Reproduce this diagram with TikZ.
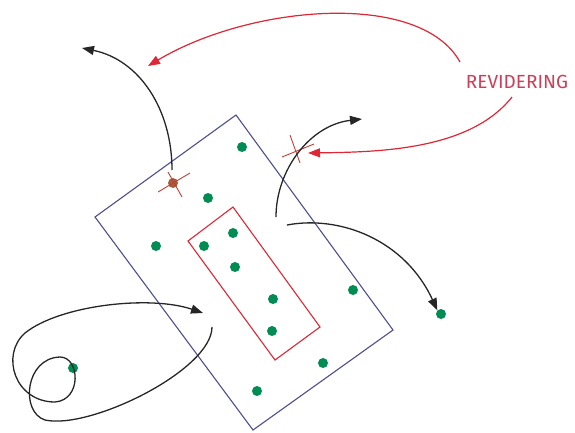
\documentclass[tikz,border=0pt]{standalone}
\usepackage{fontspec}
\newfontfamily\labelfont{Fira Sans}
\usetikzlibrary{arrows.meta}
\definecolor{rvRed}{RGB}{222,38,52}
\definecolor{rvText}{RGB}{205,62,88}
\definecolor{rvBlue}{RGB}{78,78,145}
\definecolor{rvGreen}{RGB}{0,140,82}
\definecolor{rvBrown}{RGB}{160,95,58}

\begin{document}
\begin{tikzpicture}[
    x=1pt, y=-1pt,
    dot/.style={circle, fill=rvGreen, inner sep=0pt, minimum size=10pt},
    hitdot/.style={circle, fill=rvBrown, inner sep=0pt, minimum size=10pt},
    move/.style={-{Triangle[length=12pt,width=9pt]}, line width=1.3pt, black!85},
    revise/.style={-{Triangle[length=12pt,width=9pt]}, line width=1.2pt, rvRed},
    cut/.style={line width=0.9pt, rvRed!60!rvBrown},
    label/.style={font=\labelfont\fontsize{19}{19}\selectfont, text=rvText}
]
\useasboundingbox (0,0) rectangle (575,432);

% Boxes
\draw[rvBlue, line width=1.1pt] (236,115) -- (393,330) -- (253,430) -- (95,217) -- cycle;
\draw[rvRed, line width=1.1pt] (233,207) -- (320,327) -- (275,360) -- (188,241) -- cycle;

% Points
\node[dot] (p1) at (242,147) {};
\node[dot] (p2) at (208,198) {};
\node[dot] (p3) at (156,246) {};
\node[dot] (p4) at (204,246) {};
\node[dot] (p5) at (233,233) {};
\node[dot] (p6) at (235,267) {};
\node[dot] (p7) at (273,299) {};
\node[dot] (p8) at (272,331) {};
\node[dot] (p9) at (353,290) {};
\node[dot] (p10) at (323,363) {};
\node[dot] (p11) at (257,391) {};
\node[dot] (p12) at (441,314) {};
\node[dot] (p13) at (73,368) {};
\node[hitdot] (hit) at (173,183) {};

% Label
\node[label] (rev) at (517,82) {REVIDERING};

% Crossings
\draw[cut] (158,192) -- (190,173);
\draw[cut] (168,172) -- (182,197);
\draw[cut] (290,135) -- (300,163);
\draw[cut] (282,157) -- (314,144);

% Path ends
\coordinate (hitTop) at (172,170);
\coordinate (outA) at (82,48);
\coordinate (edgeA) at (276,217);
\coordinate (outB) at (362,119);
\coordinate (edgeB) at (287,225);
\coordinate (loopStart) at (212,327);
\coordinate (loopEnd) at (203,313);
\coordinate (revTop) at (460,62);
\coordinate (revBot) at (512,97);
\coordinate (tipA) at (148,66);
\coordinate (tipB) at (308,153);

% Moves
\draw[move] (hitTop) .. controls (172,110) and (140,60) .. (outA);
\draw[move] (edgeA) .. controls (276,170) and (310,125) .. (outB);
\draw[move] (edgeB) .. controls (340,215) and (405,240) .. (p12.north west);
\draw[move] (loopStart) .. controls (212,370) and (90,430) .. (45,420)
    .. controls (20,412) and (25,358) .. (60,357)
    .. controls (80,357) and (82,400) .. (55,402)
    .. controls (15,402) and (0,355) .. (25,333)
    .. controls (60,305) and (150,295) .. (loopEnd);

% Revisions
\draw[revise] (revTop) .. controls (420,-10) and (250,5) .. (tipA);
\draw[revise] (revBot) .. controls (470,150) and (380,152) .. (tipB);
\end{tikzpicture}
\end{document}
